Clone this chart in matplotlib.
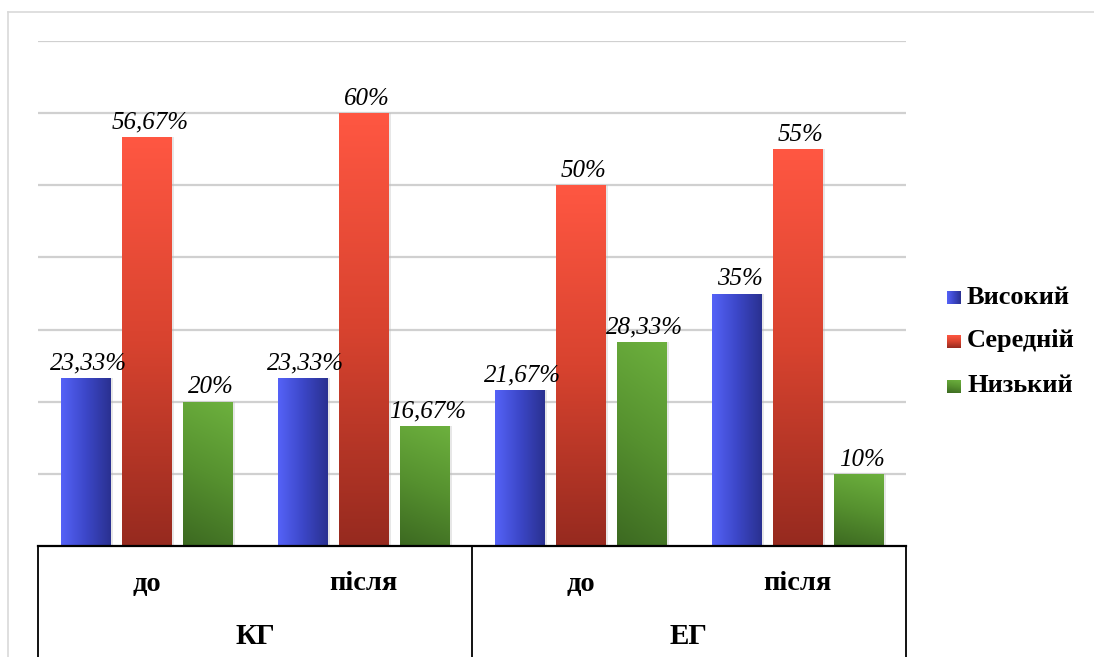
import numpy as np
import matplotlib
matplotlib.use("Agg")
import matplotlib.pyplot as plt
from matplotlib.colors import LinearSegmentedColormap
from matplotlib.lines import Line2D

# Data
subgroups = ["до", "після", "до", "після"]
groups = ["КГ", "ЕГ"]
series_names = ["Високий", "Середній", "Низький"]
high = [23.33, 23.33, 21.67, 35]
medium = [56.67, 60, 50, 55]
low = [20, 16.67, 28.33, 10]
series_values = [high, medium, low]

W, H = 1094, 657
fig = plt.figure(figsize=(W / 100, H / 100), dpi=100)
fig.patch.set_facecolor("white")

# plot area in pixels
x0, x1, ybot, ytop = 38, 906, 546, 41
ax = fig.add_axes([x0 / W, (H - ybot) / H, (x1 - x0) / W, (ybot - ytop) / H])
ax.set_xlim(-0.5, 3.5)
ax.set_ylim(0, 70)
for s in ax.spines.values():
    s.set_visible(False)
ax.set_xticks([])
ax.set_yticks([])
for yv in range(10, 71, 10):
    ax.axhline(yv, color="#D0D0D0", lw=1.6, zorder=0)

# gradient colour maps
cmaps = [
    LinearSegmentedColormap.from_list("b", ["#5562F7", "#3C47C8", "#2A3191"]),
    LinearSegmentedColormap.from_list("r", ["#FF5742", "#D8432F", "#962A1F"]),
    LinearSegmentedColormap.from_list("g", ["#6DB13E", "#56912F", "#3C6921"]),
]

offsets = [-0.281, 0.0, 0.281]
bw = 0.226
xs = np.arange(len(subgroups))
gx, gy = np.meshgrid(np.linspace(0, 1, 64), np.linspace(0, 1, 256))
grads = [
    gx,                                   # left → right
    1 - gy,                               # top → bottom (origin lower)
    np.clip((1 - gy) * 0.85 + (1 - gx) * 0.15, 0, 1),
]

for si, vals in enumerate(series_values):
    bars = ax.bar(xs + offsets[si], vals, width=bw, color="none",
                  edgecolor="none", zorder=3)
    for b, v in zip(bars, vals):
        bx, bwid, bh = b.get_x(), b.get_width(), b.get_height()
        # soft shadow
        ax.bar(bx + bwid / 2 + 0.008, bh, width=bwid + 0.012,
               color="#BBBBBB", alpha=0.35, zorder=2, edgecolor="none")
        im = ax.imshow(grads[si], cmap=cmaps[si], vmin=0, vmax=1,
                       extent=[bx, bx + bwid, 0, bh], origin="lower",
                       aspect="auto", zorder=3, interpolation="bilinear")
        im.set_clip_path(b)
        lbl = (f"{v:g}".replace(".", ",")) + "%"
        ax.annotate(lbl, (bx + bwid / 2, bh), xytext=(2.5, 6),
                    textcoords="offset points", ha="center", va="baseline",
                    fontsize=18, fontstyle="italic",
                    family="Liberation Serif", zorder=5)
ax.set_xlim(-0.5, 3.5)
ax.set_ylim(0, 70)

# category axis
trans = ax.get_xaxis_transform()
ax.plot([-0.5, 3.5], [0, 0], color="black", lw=1.6, transform=trans,
        clip_on=False, zorder=6)
low_y = -(H - ybot + 5) / (ybot - ytop)
for xv in [-0.5, 1.5, 3.5]:
    ax.plot([xv, xv], [0, low_y], color="black", lw=1.3, transform=trans,
            clip_on=False)
y_sub = -(584 - ybot) / (ybot - ytop)
y_grp = -(637 - ybot) / (ybot - ytop)
for xv, t in zip(xs, subgroups):
    ax.text(xv, y_sub, t, transform=trans, ha="center", va="center",
            fontsize=20.5, fontweight="bold", family="Liberation Serif")
for gi, t in enumerate(groups):
    ax.text(0.5 + 2 * gi, y_grp, t, transform=trans, ha="center", va="center",
            fontsize=21, fontweight="bold", family="Liberation Serif")

# legend
leg_y = [297, 341, 386]
for si, (name, ly) in enumerate(zip(series_names, leg_y)):
    sq = fig.add_axes([947 / W, (H - ly - 7) / H, 14 / W, 13 / H])
    sq.imshow(grads[si], cmap=cmaps[si], vmin=0, vmax=1, origin="lower",
              aspect="auto", extent=[0, 1, 0, 1])
    sq.set_axis_off()
    fig.text(967 / W, (H - ly) / H, name, ha="left", va="center",
             fontsize=19, fontweight="bold", family="Liberation Serif")

# outer frame
fig.add_artist(Line2D([8 / W, 1.0], [(H - 12) / H] * 2, color="#D9D9D9", lw=1.2))
fig.add_artist(Line2D([8 / W] * 2, [(H - 12) / H, 0], color="#D9D9D9", lw=1.2))

fig.savefig("out.png", dpi=100, facecolor="white")
